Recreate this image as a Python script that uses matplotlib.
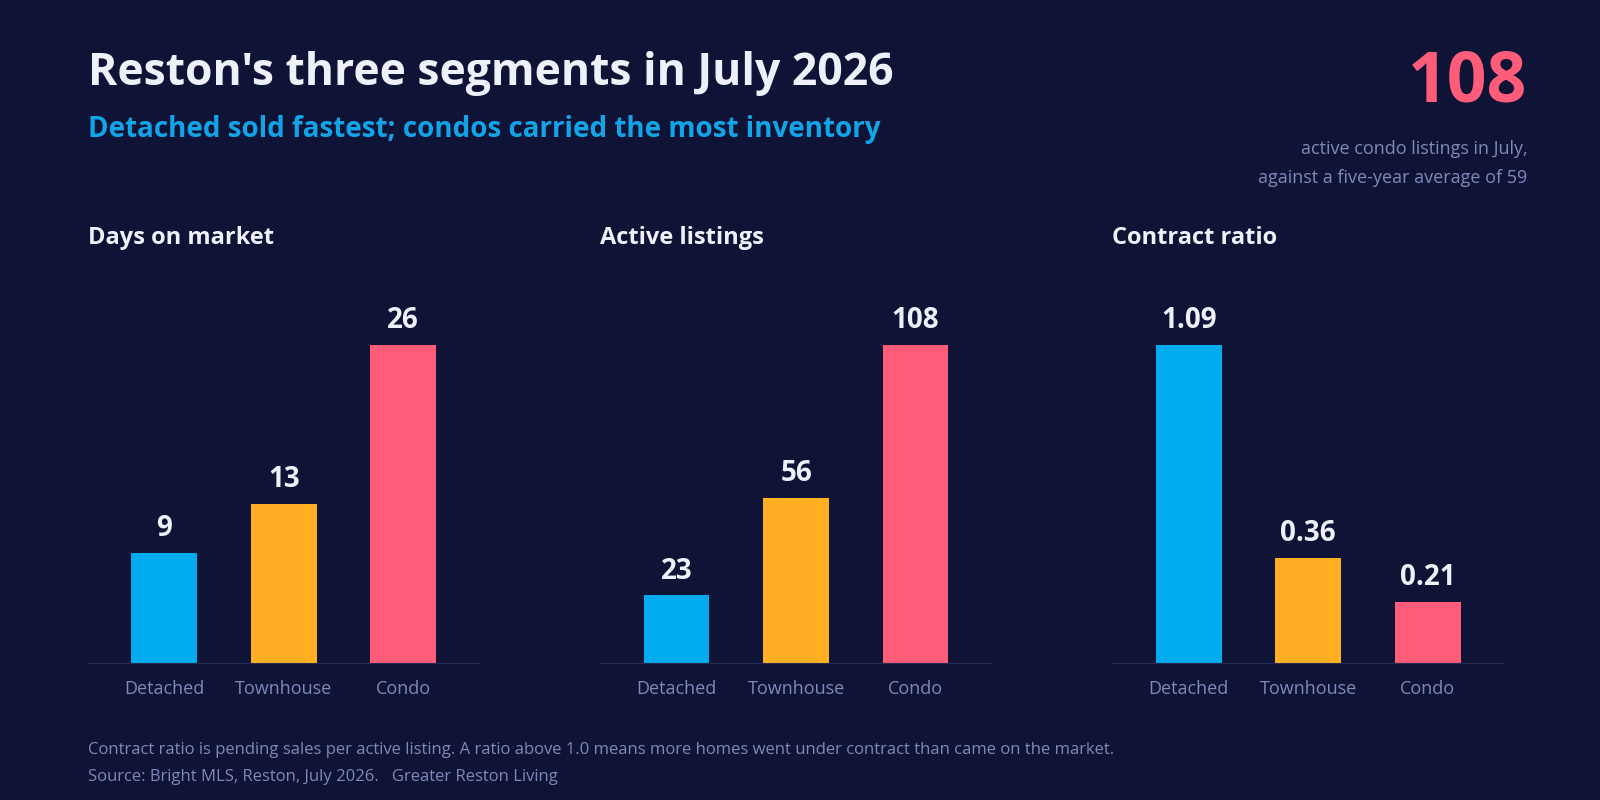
import matplotlib
matplotlib.use('Agg')
from matplotlib import pyplot as plt

plt.rcParams['font.family'] = ['Open Sans', 'DejaVu Sans']

# 数据
segments = ['Detached', 'Townhouse', 'Condo']
days_on_market = [9, 13, 26]
active_listings = [23, 56, 108]
contract_ratio = [1.09, 0.36, 0.21]
panel_titles = ['Days on market', 'Active listings', 'Contract ratio']
label_fmt = ['{:.0f}', '{:.0f}', '{:.2f}']

bg = '#0f1437'
light = '#eef0fa'
muted = '#7f88b8'
colors = ['#00aced', '#ffb022', '#ff5c7a']

W, H = 1568, 784
fig = plt.figure(figsize=(16, 8), dpi=100, facecolor=bg)

# 标题
fig.text(86 / W, 0.908, "Reston's three segments in July 2026", color=light,
         fontsize=32, fontweight='bold', va='center')
fig.text(86 / W, 0.838, 'Detached sold fastest; condos carried the most inventory',
         color='#12a4e6', fontsize=20, fontweight='bold', va='center')
fig.text(1497 / W, 0.896, '108', color='#ff5c7a', fontsize=50, fontweight='bold',
         ha='right', va='center')
fig.text(1497 / W, 0.814, 'active condo listings in July,', color=muted, fontsize=13,
         ha='right', va='center')
fig.text(1497 / W, 0.777, 'against a five-year average of 59', color=muted, fontsize=13,
         ha='right', va='center')

lefts = [86, 588, 1090]
series = [days_on_market, active_listings, contract_ratio]
for i in range(3):
    ax = fig.add_axes([lefts[i] / W, 0.171, 383 / W, 0.458])
    ax.set_facecolor(bg)
    vals = series[i]
    bars = ax.bar(range(3), vals, width=0.55, color=colors)
    ax.set_xlim(-0.64, 2.63)
    ax.set_ylim(0, max(vals) * 1.15)
    for b, v in zip(bars, vals):
        ax.text(b.get_x() + b.get_width() / 2, v + max(vals) * 0.03,
                label_fmt[i].format(v), ha='center', va='bottom',
                color=light, fontsize=20, fontweight='bold')
    ax.set_xticks(range(3))
    ax.set_xticklabels(segments, color=muted, fontsize=13)
    ax.tick_params(axis='x', length=0, pad=12)
    ax.set_yticks([])
    for s in ['top', 'right', 'left']:
        ax.spines[s].set_visible(False)
    ax.spines['bottom'].set_color('#262c52')
    fig.text(lefts[i] / W, 0.703, panel_titles[i], color=light, fontsize=17,
             fontweight='bold', va='center')

# 脚注
fig.text(86 / W, 0.0625, 'Contract ratio is pending sales per active listing. A ratio above 1.0 means more homes went under contract than came on the market.',
         color=muted, fontsize=12, va='center')
fig.text(86 / W, 0.029, 'Source: Bright MLS, Reston, July 2026.   Greater Reston Living',
         color=muted, fontsize=12, va='center')

fig.savefig('out.png', facecolor=bg)
